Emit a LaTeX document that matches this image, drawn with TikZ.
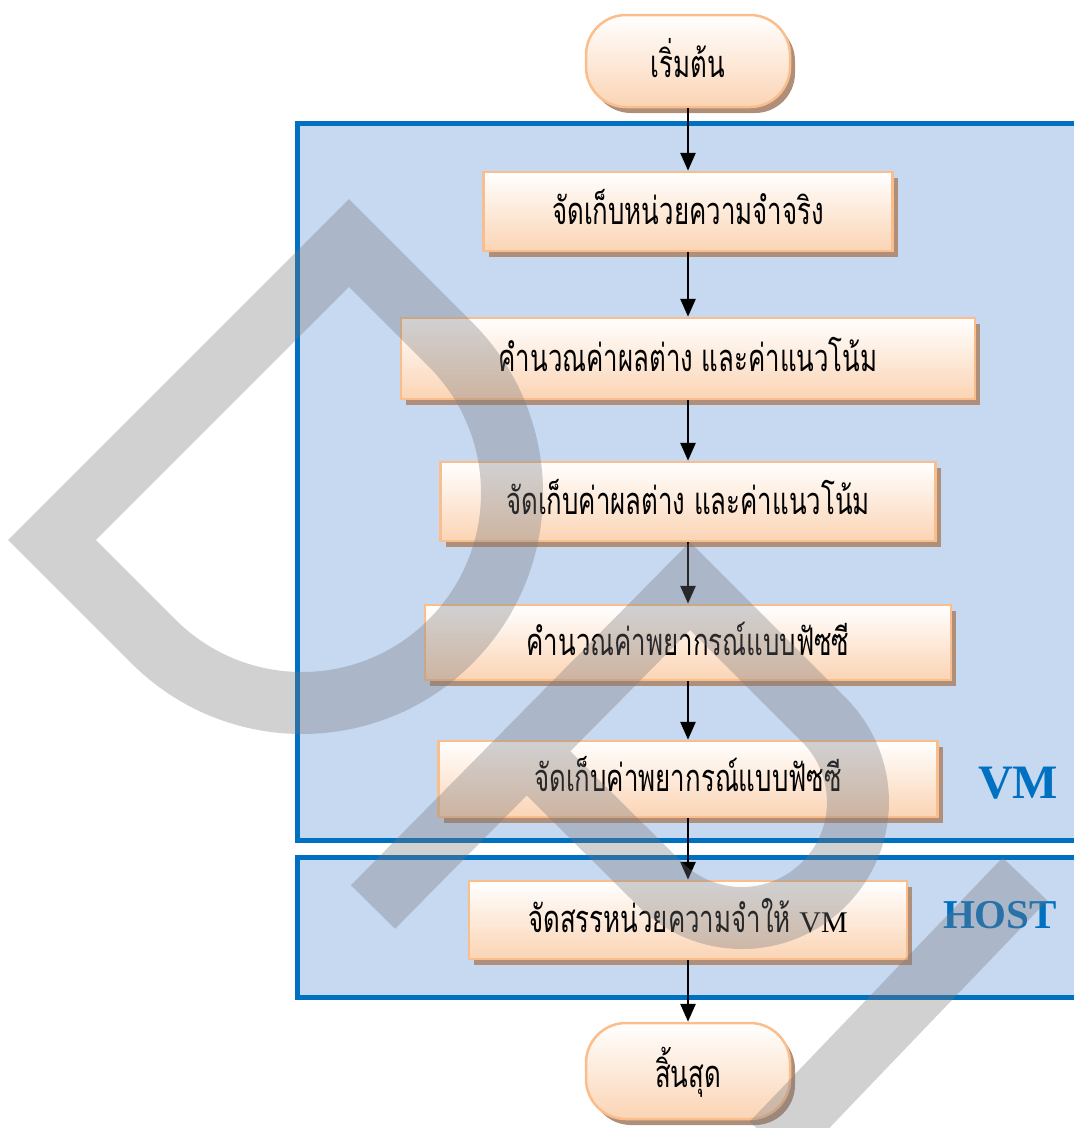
\documentclass[tikz,border=0pt]{standalone}
\usepackage{fontspec}
\setmainfont{Liberation Serif}
\newfontfamily\thaifont[Script=Thai,FakeStretch=0.68]{Loma}
\usetikzlibrary{arrows.meta,shadows}

\definecolor{zoneblue}{RGB}{0,112,192}
\definecolor{zonefill}{RGB}{198,217,240}
\definecolor{boxedge}{RGB}{250,190,140}
\definecolor{boxpeach}{RGB}{251,212,180}
\definecolor{boxshadow}{RGB}{176,143,122}
\definecolor{markgray}{RGB}{120,120,124}

\begin{document}
\begin{tikzpicture}[x=1pt,y=-1pt,
  stepbox/.style={rectangle, draw=boxedge, line width=2.5pt,
    top color=white, bottom color=boxpeach, inner sep=0pt,
    text height=25pt, text depth=0pt,
    font=\thaifont\fontsize{38pt}{40pt}\selectfont,
    drop shadow={shadow xshift=5pt, shadow yshift=-6pt, fill=boxshadow, opacity=1}},
  termbox/.style={stepbox, rounded corners=40pt, text height=32pt},
  flow/.style={line width=2.8pt, -{Triangle[width=15pt,length=18pt]}},
  zone/.style={rectangle, draw=zoneblue, line width=5pt, fill=zonefill,
    anchor=north west, inner sep=0pt},
  zonelabel/.style={text=zoneblue, inner sep=0pt},
  wmark/.style={draw=markgray, opacity=0.34, line width=62pt,
    line join=miter, line cap=butt}
]
\useasboundingbox (0,0) rectangle (1074,1128);
\clip (0,0) rectangle (1074,1128);

% containers
\node[zone, minimum width=805pt, minimum height=717pt] (vmzone) at (295,121) {};
\node[zone, minimum width=805pt, minimum height=140pt] (hostzone) at (295,855) {};
\node[zonelabel, font=\bfseries\fontsize{48pt}{50pt}\selectfont] (vmlabel) at (1018,783) {VM};
\node[zonelabel, font=\bfseries\fontsize{41pt}{43pt}\selectfont] (hostlabel) at (1000,915) {HOST};

% flow steps
\node[termbox, minimum width=204pt, minimum height=92pt] (start) at (688,61) {เริ่มต้น};
\node[stepbox, minimum width=409pt, minimum height=79pt] (b1) at (688,211.5) {จัดเก็บหน่วยความจำจริง};
\node[stepbox, minimum width=574pt, minimum height=81pt] (b2) at (688,358.5) {คำนวณค่าผลต่าง และค่าแนวโน้ม};
\node[stepbox, minimum width=495pt, minimum height=79pt] (b3) at (688,501.5) {จัดเก็บค่าผลต่าง และค่าแนวโน้ม};
\node[stepbox, minimum width=526pt, minimum height=75pt] (b4) at (688,642.5) {คำนวณค่าพยากรณ์แบบฟัซซี};
\node[stepbox, minimum width=499pt, minimum height=76pt] (b5) at (688,779) {จัดเก็บค่าพยากรณ์แบบฟัซซี};
\node[stepbox, minimum width=438pt, minimum height=78pt] (b6) at (688,920) {จัดสรรหน่วยความจำให้ {\rmfamily\fontsize{30pt}{32pt}\selectfont VM}};
\node[termbox, minimum width=204pt, minimum height=96pt] (stop) at (688,1071) {สิ้นสุด};

% connectors
\draw[flow] (start.south) -- (b1.north);
\draw[flow] (b1.south) -- (b2.north);
\draw[flow] (b2.south) -- (b3.north);
\draw[flow] (b3.south) -- (b4.north);
\draw[flow] (b4.south) -- (b5.north);
\draw[flow] (b5.south) -- (b6.north);
\draw[flow] (b6.south) -- (stop.north);

% translucent logo strokes laid over the chart
\draw[wmark] (52,540) -- (349,243) -- (450.5,344.5)
  arc[start angle=-45, end angle=135, radius=210] -- cycle;
\draw[wmark] (373,907) -- (690,586) -- (824,720)
  arc[start angle=-45, end angle=135, radius=116] -- (520,745);
\draw[wmark] (1025,879) -- (772,1143);
\end{tikzpicture}
\end{document}
